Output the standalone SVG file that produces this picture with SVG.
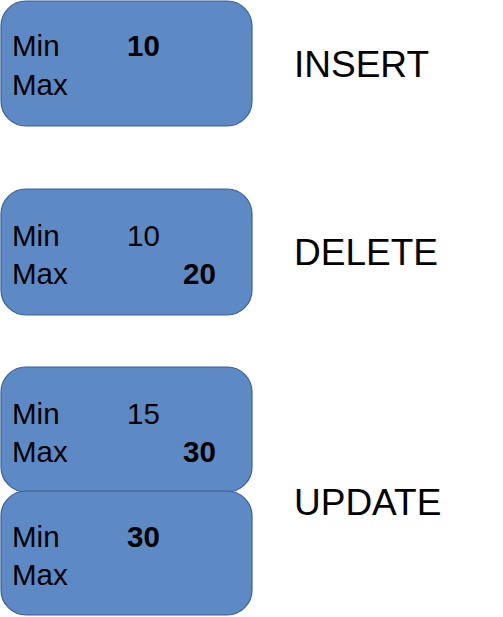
<svg xmlns="http://www.w3.org/2000/svg" width="503" height="617" viewBox="0 0 503 617">
  <style>
    .box { fill: #5d8ac4; stroke: #3a5f96; stroke-width: 1.2; }
    .t { font-family: "Liberation Sans", Arial, sans-serif; font-size: 29.5px; fill: #000; }
    .b { font-weight: bold; }
    .op { font-family: "Liberation Sans", Arial, sans-serif; font-size: 37px; fill: #000; }
  </style>
  <rect width="503" height="617" fill="#ffffff"/>

  <!-- after INSERT -->
  <g id="node-insert">
    <rect class="box" x="1" y="1" width="251" height="125" rx="25" ry="25"/>
    <text class="t" x="12" y="56">Min</text>
    <text class="t" x="12" y="95">Max</text>
    <text class="t b" x="127" y="56">10</text>
  </g>

  <!-- after DELETE -->
  <g id="node-delete">
    <rect class="box" x="1" y="189" width="251" height="126" rx="25" ry="25"/>
    <text class="t" x="12" y="246">Min</text>
    <text class="t" x="12" y="284">Max</text>
    <text class="t" x="127" y="246">10</text>
    <text class="t b" x="183" y="284">20</text>
  </g>

  <!-- UPDATE: old and new rows -->
  <g id="node-update-old">
    <rect class="box" x="1" y="367" width="251" height="125" rx="25" ry="25"/>
    <text class="t" x="12" y="424">Min</text>
    <text class="t" x="12" y="462">Max</text>
    <text class="t" x="127" y="424">15</text>
    <text class="t b" x="183" y="462">30</text>
  </g>
  <g id="node-update-new">
    <rect class="box" x="1" y="491" width="251" height="124" rx="25" ry="25"/>
    <text class="t" x="12" y="547">Min</text>
    <text class="t" x="12" y="585">Max</text>
    <text class="t b" x="127" y="547">30</text>
  </g>

  <!-- operation labels -->
  <g id="labels">
    <text class="op" x="294" y="77">INSERT</text>
    <text class="op" x="294" y="265">DELETE</text>
    <text class="op" x="294" y="515">UPDATE</text>
  </g>

  <g id="connectors"/>
</svg>
